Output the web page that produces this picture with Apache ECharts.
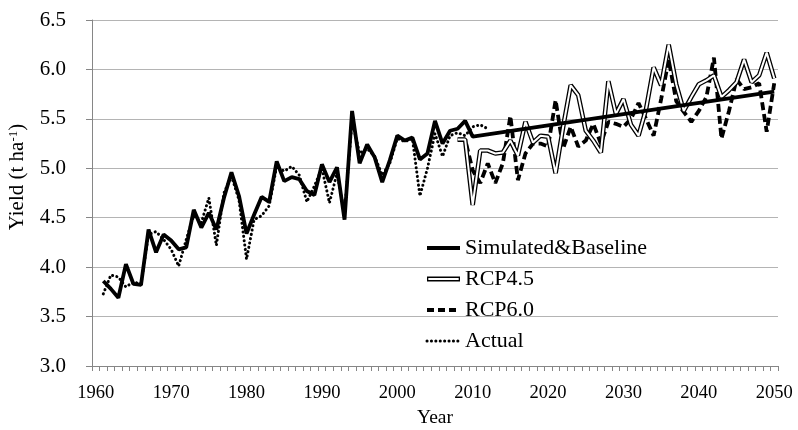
<!DOCTYPE html>
<html>
<head>
<meta charset="utf-8">
<script src="https://cdn.jsdelivr.net/npm/echarts@6/dist/echarts.min.js"></script>
<style>
html,body{margin:0;padding:0;background:#fff;}
#chart{width:798px;height:430px;}
</style>
</head>
<body>
<div id="chart"></div>
<script>
// Category labels (years)
const categories = [];
for (let y = 1960; y <= 2050; y++) categories.push(String(y));

// Simulated yield 1961-2010
const simulated = [3.86, 3.78, 3.69, 4.03, 3.83, 3.82, 4.38, 4.15, 4.33, 4.27,
  4.18, 4.20, 4.58, 4.40, 4.55, 4.38, 4.70, 4.96, 4.72, 4.34,
  4.53, 4.71, 4.66, 5.07, 4.87, 4.91, 4.89, 4.77, 4.73, 5.04,
  4.86, 5.01, 4.48, 5.58, 5.05, 5.24, 5.11, 4.86, 5.08, 5.33,
  5.28, 5.31, 5.09, 5.15, 5.48, 5.25, 5.38, 5.40, 5.48, 5.32];
// Baseline (straight trend) end value at 2050, starting from the 2010 value
const baseline2050 = 5.775;

// RCP4.5 2008-2050
const rcp45 = [5.29, 5.29, 4.63, 5.18, 5.18, 5.15, 5.16, 5.28, 5.13, 5.47,
  5.26, 5.33, 5.32, 4.95, 5.42, 5.84, 5.74, 5.38, 5.28, 5.16,
  5.88, 5.55, 5.70, 5.44, 5.33, 5.60, 6.02, 5.84, 6.25, 5.85,
  5.58, 5.72, 5.85, 5.89, 5.94, 5.72, 5.79, 5.87, 6.10, 5.87,
  5.94, 6.17, 5.91];

// RCP6.0 2008-2050
const rcp60 = [5.29, 5.29, 4.98, 4.85, 5.05, 4.85, 5.05, 5.53, 4.88, 5.15,
  5.25, 5.25, 5.22, 5.69, 5.20, 5.42, 5.22, 5.28, 5.45, 5.25,
  5.47, 5.45, 5.42, 5.50, 5.66, 5.50, 5.33, 5.70, 6.10, 5.68,
  5.57, 5.47, 5.58, 5.72, 6.12, 5.30, 5.58, 5.90, 5.80, 5.82,
  5.86, 5.37, 5.86];

// Actual 1961-2012
const actual = [3.73, 3.92, 3.90, 3.80, 3.85, 3.83, 4.33, 4.36, 4.28, 4.18,
  4.01, 4.28, 4.52, 4.45, 4.70, 4.22, 4.75, 4.92, 4.68, 4.08,
  4.48, 4.52, 4.62, 5.02, 4.97, 5.02, 4.93, 4.66, 4.82, 5.00,
  4.65, 4.95, 4.55, 5.48, 5.15, 5.20, 5.12, 4.93, 5.05, 5.30,
  5.27, 5.30, 4.72, 5.00, 5.35, 5.12, 5.33, 5.36, 5.33, 5.42,
  5.44, 5.40];

const yTicks = {min: 3.0, max: 6.5, step: 0.5};

function place(startYear, values) {
  const arr = new Array(categories.length).fill(null);
  values.forEach((v, i) => { arr[startYear - 1960 + i] = v; });
  return arr;
}
const simData = place(1961, simulated);
simData[2050 - 1960] = baseline2050;

const font = 'Liberation Serif';
const hideSymbol = {opacity: 0};
const chart = echarts.init(document.getElementById('chart'), null, {renderer: 'canvas'});
chart.setOption({
  animation: false,
  backgroundColor: '#ffffff',
  textStyle: {fontFamily: font},
  grid: {left: 92, right: 20, top: 20, bottom: 64, containLabel: false, outerBoundsMode: 'none'},
  legend: {
    orient: 'vertical', left: 420, top: 232,
    itemWidth: 33, itemHeight: 14, itemGap: 9,
    textStyle: {fontFamily: font, fontSize: 22, color: '#000'},
    data: [
      {name: 'Simulated&Baseline', itemStyle: hideSymbol, lineStyle: {width: 4, type: 'solid', color: '#000'}},
      {name: 'RCP4.5', icon: 'path://M0,0H33V5H0Z M1.3,1.4V3.6H31.7V1.4Z'},
      {name: 'RCP6.0', itemStyle: hideSymbol, lineStyle: {width: 3.8, type: [7, 4], color: '#000'}},
      {name: 'Actual', itemStyle: hideSymbol, lineStyle: {width: 3, type: [0.1, 4.3], cap: 'round', color: '#000'}}
    ]
  },
  xAxis: {
    type: 'category', data: categories, boundaryGap: true,
    axisLine: {lineStyle: {color: '#868686', width: 1}},
    axisTick: {show: true, interval: 0, length: 5, lineStyle: {color: '#868686'}},
    axisLabel: {interval: 9, color: '#000', fontSize: 18.5, fontFamily: font, margin: 18},
    splitLine: {show: false},
    name: 'Year', nameLocation: 'middle', nameGap: 35,
    nameTextStyle: {fontFamily: font, fontSize: 19.5, color: '#000'}
  },
  yAxis: {
    type: 'value', min: yTicks.min, max: yTicks.max, interval: yTicks.step,
    axisLine: {show: true, lineStyle: {color: '#868686', width: 1}},
    axisTick: {show: true, length: 6, lineStyle: {color: '#868686'}},
    axisLabel: {formatter: v => v.toFixed(1), color: '#000', fontSize: 21, fontFamily: font, margin: 26},
    splitLine: {lineStyle: {color: '#b4b4b4', width: 1}},
    name: 'Yield (t ha{sup|-1})', nameLocation: 'middle', nameGap: 58, nameRotate: 90,
    nameTextStyle: {fontFamily: font, fontSize: 21, color: '#000', padding: [0, 0, 0, 32],
      rich: {sup: {fontFamily: font, fontSize: 13, color: '#000', verticalAlign: 'top', lineHeight: 14, padding: [0, 0, 9, 0]}}}
  },
  series: [
    {
      name: 'Actual', type: 'line', data: place(1961, actual), symbol: 'none',
      color: '#000',
      lineStyle: {color: '#000', width: 3, type: [0.1, 4.3], cap: 'round'},
      z: 2
    },
    {
      name: 'RCP6.0', type: 'line', data: place(2008, rcp60), symbol: 'none',
      color: '#000',
      lineStyle: {color: '#000', width: 3.8, type: [8, 4]},
      z: 3
    },
    {
      name: 'RCP4.5', type: 'line', data: place(2008, rcp45), symbol: 'none',
      color: '#000',
      lineStyle: {color: '#000', width: 4.6},
      z: 4
    },
    {
      name: 'RCP4.5 inner', type: 'line', data: place(2008, rcp45), symbol: 'none',
      color: '#fff',
      lineStyle: {color: '#fff', width: 2},
      z: 5, silent: true
    },
    {
      name: 'Simulated&Baseline', type: 'line', data: simData, symbol: 'none',
      connectNulls: true, color: '#000',
      lineStyle: {color: '#000', width: 3.8},
      z: 6
    }
  ]
});
</script>
</body>
</html>
